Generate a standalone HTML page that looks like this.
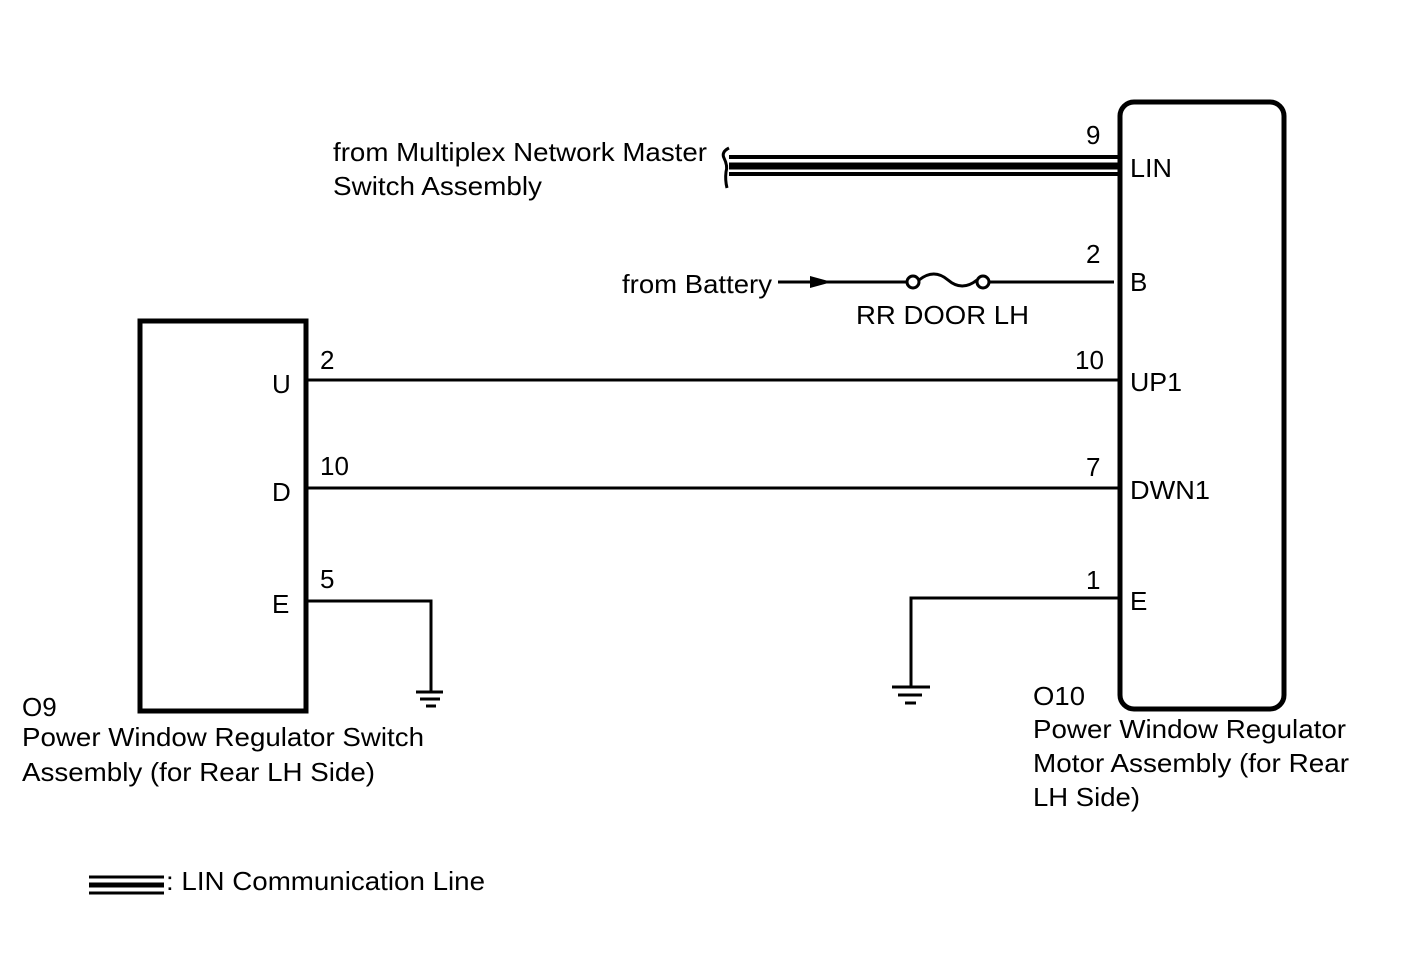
<!DOCTYPE html>
<html><head><meta charset="utf-8"><style>
html,body{margin:0;padding:0;background:#fff;}
svg{display:block;}
text{font-family:"Liberation Sans",Arial,sans-serif;font-size:26px;fill:#000;}
</style></head><body>
<svg width="1424" height="959" viewBox="0 0 1424 959" xmlns="http://www.w3.org/2000/svg">
<rect x="140" y="321" width="166" height="390" fill="none" stroke="#000" stroke-width="5"/>
<rect x="1120" y="102" width="164" height="607" rx="14" fill="none" stroke="#000" stroke-width="5"/>
<line x1="729" y1="157" x2="1118" y2="157" stroke="#000" stroke-width="4"/>
<line x1="729" y1="166" x2="1118" y2="166" stroke="#000" stroke-width="7"/>
<line x1="729" y1="174" x2="1118" y2="174" stroke="#000" stroke-width="4"/>
<path d="M729,148 Q721,152 724,158 Q728,166 726,172 Q725,180 727,188" fill="none" stroke="#000" stroke-width="3"/>
<line x1="778" y1="282" x2="907" y2="282" stroke="#000" stroke-width="3"/>
<polygon points="810,276 832,282 810,288" fill="#000"/>
<circle cx="913" cy="282" r="6" fill="#fff" stroke="#000" stroke-width="3"/>
<circle cx="983" cy="282" r="6" fill="#fff" stroke="#000" stroke-width="3"/>
<path d="M919,280 Q934,268 948,280 Q962,292 977,280" fill="none" stroke="#000" stroke-width="3"/>
<line x1="989" y1="282" x2="1114" y2="282" stroke="#000" stroke-width="3"/>
<line x1="306" y1="380" x2="1118" y2="380" stroke="#000" stroke-width="3"/>
<line x1="306" y1="488" x2="1118" y2="488" stroke="#000" stroke-width="3"/>
<polyline points="306,601 431,601 431,692" fill="none" stroke="#000" stroke-width="3"/>
<line x1="416" y1="692" x2="443" y2="692" stroke="#000" stroke-width="3"/>
<line x1="420" y1="699" x2="440" y2="699" stroke="#000" stroke-width="3"/>
<line x1="426" y1="706" x2="436" y2="706" stroke="#000" stroke-width="3"/>
<polyline points="1118,598 911,598 911,687" fill="none" stroke="#000" stroke-width="3"/>
<line x1="892" y1="687" x2="930" y2="687" stroke="#000" stroke-width="3"/>
<line x1="898" y1="695" x2="922" y2="695" stroke="#000" stroke-width="3"/>
<line x1="905" y1="703" x2="916" y2="703" stroke="#000" stroke-width="3"/>
<line x1="89" y1="877" x2="164" y2="877" stroke="#000" stroke-width="3"/>
<line x1="89" y1="885" x2="164" y2="885" stroke="#000" stroke-width="5"/>
<line x1="89" y1="893" x2="164" y2="893" stroke="#000" stroke-width="3"/>
<text x="166" y="890" textLength="319" lengthAdjust="spacingAndGlyphs">: LIN Communication Line</text>
<text x="333" y="161" textLength="374" lengthAdjust="spacingAndGlyphs">from Multiplex Network Master</text>
<text x="333" y="195" textLength="209" lengthAdjust="spacingAndGlyphs">Switch Assembly</text>
<text x="1086" y="144">9</text>
<text x="1130" y="177" textLength="42" lengthAdjust="spacingAndGlyphs">LIN</text>
<text x="1086" y="263">2</text>
<text x="1130" y="291">B</text>
<text x="622" y="293" textLength="150" lengthAdjust="spacingAndGlyphs">from Battery</text>
<text x="856" y="324" textLength="173" lengthAdjust="spacingAndGlyphs">RR DOOR LH</text>
<text x="1075" y="369">10</text>
<text x="1130" y="391" textLength="52" lengthAdjust="spacingAndGlyphs">UP1</text>
<text x="1086" y="476">7</text>
<text x="1130" y="499" textLength="80" lengthAdjust="spacingAndGlyphs">DWN1</text>
<text x="1086" y="589">1</text>
<text x="1130" y="610">E</text>
<text x="320" y="369">2</text>
<text x="272" y="393">U</text>
<text x="320" y="475">10</text>
<text x="272" y="501">D</text>
<text x="320" y="588">5</text>
<text x="272" y="613">E</text>
<text x="22" y="716">O9</text>
<text x="22" y="746" textLength="402" lengthAdjust="spacingAndGlyphs">Power Window Regulator Switch</text>
<text x="22" y="781" textLength="353" lengthAdjust="spacingAndGlyphs">Assembly (for Rear LH Side)</text>
<text x="1033" y="705" textLength="52" lengthAdjust="spacingAndGlyphs">O10</text>
<text x="1033" y="738" textLength="313" lengthAdjust="spacingAndGlyphs">Power Window Regulator</text>
<text x="1033" y="772" textLength="316" lengthAdjust="spacingAndGlyphs">Motor Assembly (for Rear</text>
<text x="1033" y="806" textLength="107" lengthAdjust="spacingAndGlyphs">LH Side)</text>
</svg>
</body></html>
